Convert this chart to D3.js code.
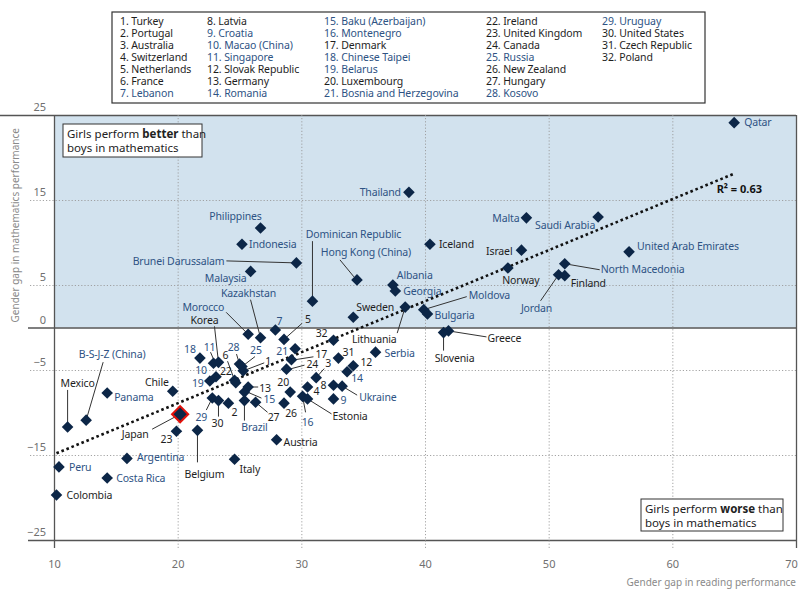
<!DOCTYPE html>
<html><head><meta charset="utf-8">
<script src="https://cdn.jsdelivr.net/npm/d3@7"></script>
<style>
body{margin:0;background:#fff;}
text{font-family:"Noto Sans",sans-serif;}
</style></head><body>
<svg id="c" width="800" height="589"></svg>
<script>
// ---------------- DATA ----------------
const countries = ["Qatar","Thailand","Malta","Saudi Arabia","Philippines","Iceland","Indonesia","Israel","United Arab Emirates","Brunei Darussalam","Norway","North Macedonia","Malaysia","Jordan","Finland","Hong Kong (China)","Albania","Georgia","Dominican Republic","Moldova","Bulgaria","Sweden","Lithuania","Greece","Slovenia","Serbia","Morocco","Kazakhstan","Korea","Lebanon","Netherlands","Poland","Bosnia and Herzegovina","Denmark","Canada","Australia","Czech Republic","Slovak Republic","Romania","Latvia","Ukraine","Switzerland","Luxembourg","Croatia","Montenegro","Estonia","New Zealand","Hungary","Brazil","Germany","Baku (Azerbaijan)","Portugal","United States","Uruguay","Turkey","Russia","Kosovo","France","Ireland","Singapore","Chinese Taipei","Macao (China)","Belarus","United Kingdom","Japan","Belgium","Italy","Chile","Panama","Mexico","B-S-J-Z (China)","Argentina","Peru","Costa Rica","Colombia","Austria"];
const readingGap = [65.0,38.7,48.2,54.0,26.7,40.4,25.2,47.8,56.5,29.6,46.7,51.3,25.9,50.8,51.3,34.5,37.4,37.6,30.9,39.9,40.2,34.2,38.4,41.9,41.5,36.0,25.7,26.7,23.3,27.9,28.6,32.6,29.5,29.2,28.8,31.2,33.0,34.2,33.7,32.6,33.3,30.5,29.1,32.6,30.1,30.5,28.6,26.3,25.4,25.7,25.4,24.1,23.3,22.8,25.3,25.2,25.0,24.6,24.7,22.9,21.8,23.1,22.6,19.9,20.2,21.6,24.6,19.6,14.3,11.1,12.6,15.9,10.4,14.3,10.2,28.0];
const mathGap = [24.1,15.9,12.9,13.0,11.7,9.8,9.8,9.1,8.9,7.6,7.0,7.5,6.6,6.2,6.1,5.6,5.0,4.3,3.1,2.1,1.6,1.2,2.4,-0.4,-0.6,-2.9,-0.8,-1.2,-4.1,-0.3,-1.4,-1.5,-2.5,-3.8,-4.9,-5.9,-3.6,-4.5,-5.2,-6.8,-6.9,-7.0,-7.6,-8.4,-8.1,-8.4,-8.9,-8.8,-8.6,-7.0,-7.6,-8.9,-8.6,-8.3,-5.1,-4.6,-4.3,-6.2,-6.5,-4.2,-3.6,-5.8,-6.3,-12.2,-10.2,-12.1,-15.5,-7.5,-7.7,-11.7,-10.9,-15.4,-16.4,-17.7,-19.7,-13.2];
const pointLabels = ["Qatar","Thailand","Malta","Saudi Arabia","Philippines","Iceland","Indonesia","Israel","United Arab Emirates","Brunei Darussalam","Norway","North Macedonia","Malaysia","Jordan","Finland","Hong Kong (China)","Albania","Georgia","Dominican Republic","Moldova","Bulgaria","Sweden","Lithuania","Greece","Slovenia","Serbia","Morocco","Kazakhstan","Korea","7","5","32","21","17","24","3","31","12","14","8","Ukraine","4","20","9","16","Estonia","26","27","Brazil","13","15","2","30","29","1","25","28","6","22","11","18","10","19","23","Japan","Belgium","Italy","Chile","Panama","Mexico","B-S-J-Z (China)","Argentina","Peru","Costa Rica","Colombia","Austria"];
const partners = ["Qatar","Thailand","Malta","Saudi Arabia","Philippines","Indonesia","United Arab Emirates","Brunei Darussalam","North Macedonia","Malaysia","Jordan","Hong Kong (China)","Albania","Georgia","Dominican Republic","Moldova","Bulgaria","Serbia","Morocco","Kazakhstan","Lebanon","Bosnia and Herzegovina","Romania","Ukraine","Croatia","Montenegro","Brazil","Baku (Azerbaijan)","Uruguay","Russia","Kosovo","Singapore","Chinese Taipei","Macao (China)","Belarus","Panama","B-S-J-Z (China)","Argentina","Peru","Costa Rica"];
const legendItems = ["1. Turkey","2. Portugal","3. Australia","4. Switzerland","5. Netherlands","6. France","7. Lebanon","8. Latvia","9. Croatia","10. Macao (China)","11. Singapore","12. Slovak Republic","13. Germany","14. Romania","15. Baku (Azerbaijan)","16. Montenegro","17. Denmark","18. Chinese Taipei","19. Belarus","20. Luxembourg","21. Bosnia and Herzegovina","22. Ireland","23. United Kingdom","24. Canada","25. Russia","26. New Zealand","27. Hungary","28. Kosovo","29. Uruguay","30. United States","31. Czech Republic","32. Poland"];
const legendPartner = [7,9,10,11,14,15,16,18,19,21,25,28,29];
const xTicks = [10,20,30,40,50,60,70];
const yTicks = [25,15,5,0,-5,-15,-25];
const trendX = [10.2, 65.0];
const trendY = [-14.8, 18.1];
const rSquared = "0.63";
const highlighted = "Japan";

// ---------------- LAYOUT (label placement, px offsets) ----------------
const layout = {
"Qatar":[10,0,"s"],"Thailand":[-8,0,"e"],"Malta":[-7,0,"e"],"Saudi Arabia":[-3,8,"e"],
"Philippines":[-25,-12,"m"],"Iceland":[9,0,"s"],"Indonesia":[7,0,"s"],"Israel":[-9,1,"e"],
"United Arab Emirates":[8,-6,"s"],"Brunei Darussalam":[-72,-2,"e",[0,0,-70,-2]],
"Norway":[13,12,"m"],"North Macedonia":[36,6,"s",[0,0,35,6]],"Malaysia":[-4,7,"e"],
"Jordan":[-22,34,"m",[0,0,-18,26]],"Finland":[6,8,"s"],
"Hong Kong (China)":[9,-28,"m",[-3,-3,-17,-20]],"Albania":[4,-10,"s"],"Georgia":[8,0,"s"],
"Dominican Republic":[41,-67,"m",[0,0,0,-60]],"Moldova":[45,-14,"s",[0,0,43,-13]],
"Bulgaria":[7,1,"s"],"Sweden":[3,-10,"s"],"Lithuania":[-31,32,"m",[0,0,-8,26]],
"Greece":[39,7,"s",[0,0,38,6]],"Slovenia":[11,26,"m",[0,0,0,18]],"Serbia":[9,1,"s"],
"Morocco":[-24,-27,"e",[0,0,-22,-22]],"Kazakhstan":[-12,-44,"m",[0,0,-10,-38]],
"Korea":[-14,-42,"m",[0,0,-4,-36]],"Lebanon":[4,-9,"m"],"Netherlands":[24,-20,"m",[0,0,18,-16]],
"Poland":[-6,-7,"e"],"Bosnia and Herzegovina":[-13,3,"m"],"Denmark":[24,-5,"s",[3,0,22,-3]],
"Canada":[20,-5,"s",[3,0,18,-4]],"Australia":[12,-14,"m",[0,0,8,-9]],"Czech Republic":[10,-6,"m"],
"Slovak Republic":[13,-3,"m"],"Romania":[10,7,"m"],"Latvia":[-10,0,"m"],
"Ukraine":[17,11,"s",[0,0,15,9]],"Switzerland":[9,4,"m"],"Luxembourg":[-7,-10,"m"],
"Croatia":[7,1,"s"],"Montenegro":[5,26,"m",[0,0,3,16]],"Estonia":[25,17,"s",[0,0,24,15]],
"New Zealand":[7,10,"m"],"Hungary":[18,15,"m",[0,0,12,10]],"Brazil":[10,27,"m",[0,0,0,20]],
"Germany":[11,1,"s",[3,0,10,0]],"Baku (Azerbaijan)":[19,7,"s",[3,0,17,6]],"Portugal":[6,9,"m"],
"United States":[-1,23,"m",[0,0,0,16]],"Uruguay":[-11,19,"m",[0,0,-6,12]],
"Turkey":[25,-10,"m",[0,0,21,-8]],"Russia":[14,-16,"m",[0,0,13,-10]],
"Kosovo":[-6,-17,"m",[0,0,-3,-10]],"France":[-9,-25,"m",[0,0,-7,-19]],"Ireland":[-10,-11,"m"],
"Singapore":[-4,-16,"m",[0,-4,-3,-11]],"Chinese Taipei":[-10,-9,"m"],"Macao (China)":[-15,-6,"m"],
"Belarus":[-12,2,"m"],"United Kingdom":[-10,8,"m"],"Japan":[-45,20,"m",[0,0,-28,15]],
"Belgium":[7,44,"m",[0,0,0,32]],"Italy":[5,10,"s"],"Chile":[-4,-9,"e"],"Panama":[7,4,"s"],
"Mexico":[10,-44,"m",[0,0,0,-37]],"B-S-J-Z (China)":[26,-66,"m",[0,0,17,-58]],
"Argentina":[10,-1,"s"],"Peru":[10,0,"s"],"Costa Rica":[9,0,"s"],"Colombia":[10,0,"s"],
"Austria":[7,3,"s"]
};

const C = {blue:"#2e5384", dark:"#1e1e1e", marker:"#0c2647", fill:"#d2e2ee", axis:"#6b6b6b", grid:"#9a9a9a", tick:"#707070"};
const L = 54, R = 796, T = 115, B = 540, BT = 548;

const svg = d3.select("#c");
const x = d3.scaleLinear().domain([10,70]).range([L,R]);
const y = d3.scaleLinear().domain([-25,25]).range([B,T]);

// shaded region (girls better)
svg.append("rect").attr("x",x(10)).attr("y",y(25)).attr("width",x(70)-x(10)).attr("height",y(0)-y(25)).attr("fill",C.fill);

// y axis with gridlines
const solidY = d=> (d===0||d===25||d===-25);
const yAxis = d3.axisLeft(y).tickValues(yTicks).tickSize(R-28).tickFormat(d3.format("d"));
const gy = svg.append("g").attr("transform",`translate(${R},0)`).call(yAxis);
gy.select(".domain").remove();
gy.selectAll(".tick line").attr("stroke",d=>solidY(d)?"#555":C.grid)
  .attr("stroke-width",d=>solidY(d)?1.3:0.9)
  .attr("stroke-dasharray",d=>solidY(d)?null:"1.2,2")
  .attr("x2",d=>d===25?-R:-(R-28));
gy.selectAll(".tick text").attr("x",46-R).attr("y",-8).attr("text-anchor","end")
  .attr("fill",C.tick).attr("font-size",11).attr("font-family","Noto Sans");

// x axis with gridlines
const xAxis = d3.axisBottom(x).tickValues(xTicks).tickSize(-(BT-T)).tickPadding(12).tickFormat(d3.format("d"));
const gx = svg.append("g").attr("transform",`translate(0,${BT})`).call(xAxis);
gx.select(".domain").remove();
gx.selectAll(".tick line").attr("stroke",d=>(d===10||d===70)?"#555":C.grid)
  .attr("stroke-width",d=>(d===10||d===70)?1.3:0.9)
  .attr("stroke-dasharray",d=>(d===10||d===70)?null:"1.2,2");
gx.selectAll(".tick text").attr("fill",C.tick).attr("font-size",11).attr("font-family","Noto Sans").attr("y",12)
  .attr("dx",d=>d===70?-5:0);

// axis titles
svg.append("text").attr("transform",`translate(19,${(T+y(0))/2+4}) rotate(-90)`).attr("text-anchor","middle")
  .attr("fill","#8a8a8a").attr("font-size",10).text("Gender gap in mathematics performance");
svg.append("text").attr("x",R).attr("y",586).attr("text-anchor","end")
  .attr("fill","#8a8a8a").attr("font-size",10).text("Gender gap in reading performance");

// trend line
svg.append("line").attr("x1",x(trendX[0])).attr("y1",y(trendY[0])).attr("x2",x(trendX[1])).attr("y2",y(trendY[1]))
  .attr("stroke","#111").attr("stroke-width",2.6).attr("stroke-dasharray","2.6,2.8");
svg.append("text").attr("x",762).attr("y",y(trendY[1])+19).attr("text-anchor","end").attr("font-weight","bold")
  .attr("font-size",11).attr("fill","#111").text(`R² = ${rSquared}`);

const data = countries.map((c,i)=>({name:c, rx:readingGap[i], my:mathGap[i], lab:pointLabels[i], partner:partners.includes(c)}));

// leaders
svg.append("g").selectAll("line").data(data.filter(d=>layout[d.name][3])).join("line")
  .attr("x1",d=>x(d.rx)+layout[d.name][3][0]).attr("y1",d=>y(d.my)+layout[d.name][3][1])
  .attr("x2",d=>x(d.rx)+layout[d.name][3][2]).attr("y2",d=>y(d.my)+layout[d.name][3][3])
  .attr("stroke","#333").attr("stroke-width",1);

// markers
const dia = r=>`M0,${-r}L${r},0L0,${r}L${-r},0Z`;
const hl = data.find(d=>d.name===highlighted);
svg.append("path").attr("d",dia(9.5)).attr("transform",`translate(${x(hl.rx)},${y(hl.my)})`)
  .attr("fill","#e3120b");
svg.append("g").selectAll("path").data(data).join("path")
  .attr("d",d=>dia(d.name===highlighted?6.6:5.8)).attr("transform",d=>`translate(${x(d.rx)},${y(d.my)})`).attr("fill",C.marker);

// labels
const anch = {s:"start",e:"end",m:"middle"};
svg.append("g").selectAll("text").data(data).join("text")
  .attr("x",d=>x(d.rx)+layout[d.name][0]).attr("y",d=>y(d.my)+layout[d.name][1])
  .attr("dy","0.35em").attr("text-anchor",d=>anch[layout[d.name][2]])
  .attr("font-size",10.5).attr("letter-spacing",-0.15)
  .attr("fill",d=>d.partner?C.blue:C.dark).text(d=>d.lab);

// annotation boxes
function box(bx,by,bw,bh,word){
  svg.append("rect").attr("x",bx).attr("y",by).attr("width",bw).attr("height",bh)
    .attr("fill","#fff").attr("stroke","#333").attr("stroke-width",1);
  const t1 = svg.append("text").attr("x",bx+4).attr("y",by+14).attr("font-size",11.5).attr("fill","#222");
  t1.append("tspan").text("Girls perform ");
  t1.append("tspan").attr("font-weight","bold").text(word);
  t1.append("tspan").text(" than");
  svg.append("text").attr("x",bx+4).attr("y",by+28).attr("font-size",11.5).attr("fill","#222").text("boys in mathematics");
}
box(63,124,139,33,"better");
box(641,499,142,32,"worse");

// legend
svg.append("rect").attr("x",112).attr("y",12).attr("width",593).attr("height",91)
  .attr("fill","#fff").attr("stroke","#333").attr("stroke-width",1.2);
const colX = [120,207,324,486,602];
svg.append("g").selectAll("text").data(legendItems).join("text")
  .attr("x",(d,i)=>colX[Math.floor(i/7)]).attr("y",(d,i)=>21+12*(i%7)).attr("dy","0.35em")
  .attr("font-size",10.5).attr("letter-spacing",-0.1)
  .attr("fill",(d,i)=>legendPartner.includes(i+1)?C.blue:C.dark).text(d=>d);
</script></body></html>
